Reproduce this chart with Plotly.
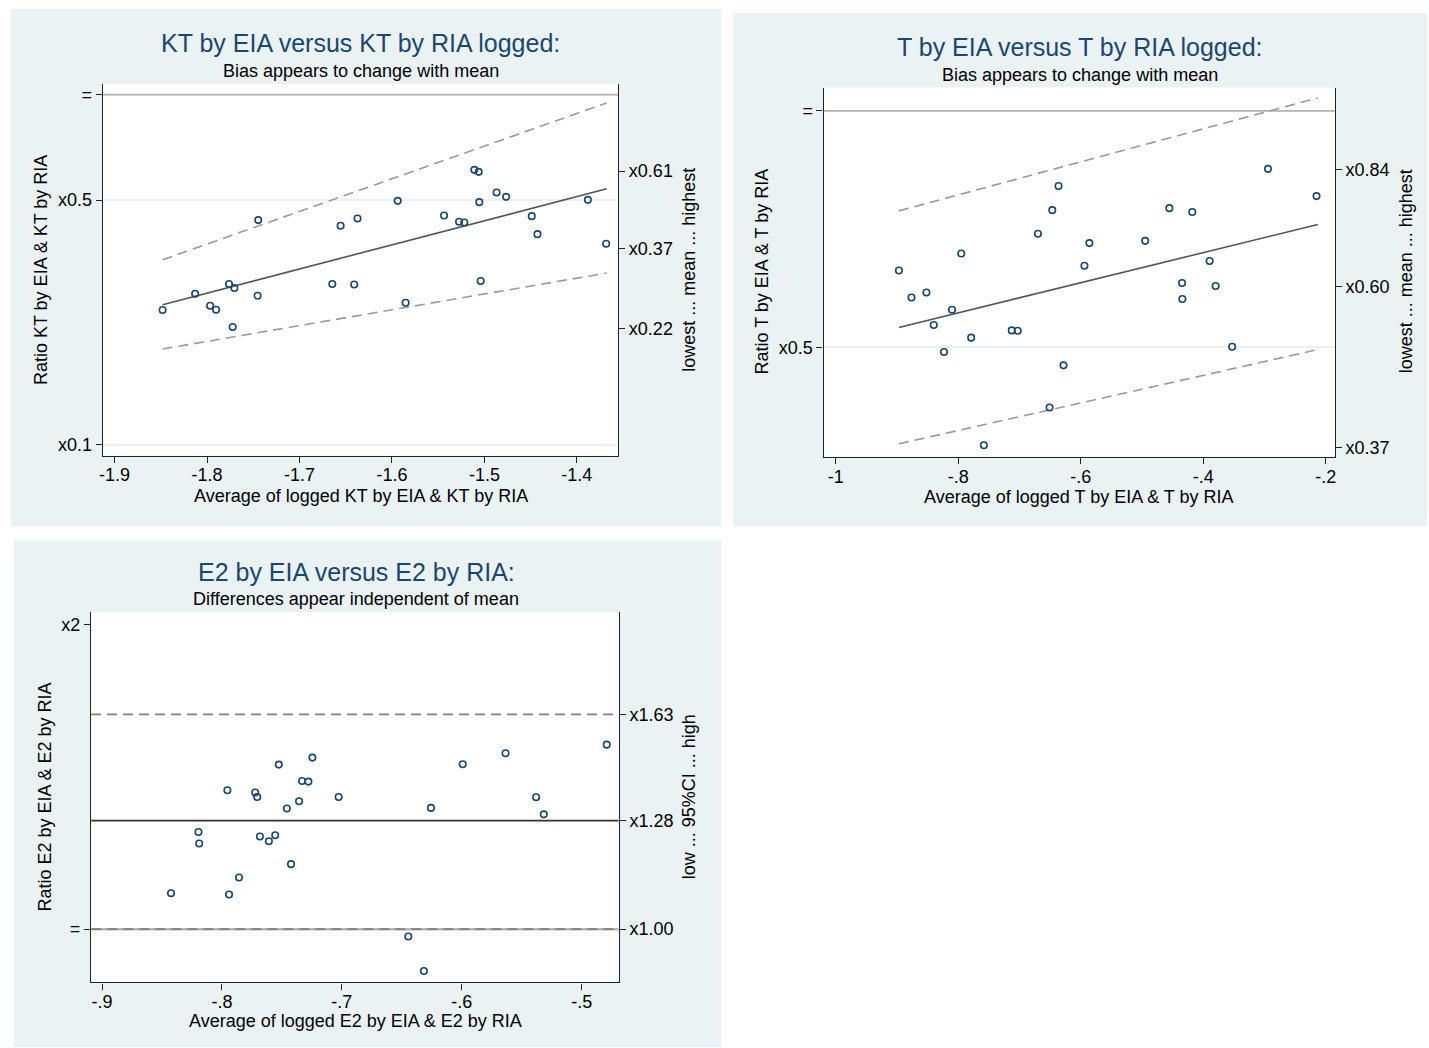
import plotly.graph_objects as go

W, H = 1429, 1048

# ---------------- data ----------------
# Panel 1: KT
kt_avg = [-1.848, -1.8128, -1.7966, -1.7902, -1.7762, -1.7704, -1.7722, -1.7453,
          -1.7446, -1.6645, -1.6555, -1.6408, -1.6372, -1.5938, -1.5852, -1.5436,
          -1.5274, -1.5217, -1.5109, -1.5062, -1.5055, -1.5040, -1.4868, -1.4765,
          -1.4488, -1.4426, -1.3881, -1.3683]
kt_ratio = [0.2427, 0.2701, 0.2496, 0.2431, 0.2879, 0.2805, 0.2171, 0.2666,
            0.4383, 0.2879, 0.4222, 0.2871, 0.4429, 0.4973, 0.2546, 0.4517,
            0.4334, 0.4314, 0.6097, 0.6018, 0.4931, 0.2936, 0.5254, 0.5107,
            0.4498, 0.3996, 0.5006, 0.3752]
kt_line_x = [-1.848, -1.3677]
kt_line_mean = [0.2513, 0.5383]
kt_line_hi = [0.3377, 0.9469]
kt_line_lo = [0.1878, 0.3094]
kt_x_ticks = [-1.9, -1.8, -1.7, -1.6, -1.5, -1.4]
kt_x_text = ["-1.9", "-1.8", "-1.7", "-1.6", "-1.5", "-1.4"]
kt_left_vals = [0.1, 0.5, 1]
kt_left_text = ["x0.1", "x0.5", "="]
kt_right_vals = [0.215, 0.3625, 0.605]
kt_right_text = ["x0.22", "x0.37", "x0.61"]

# Panel 2: T
t_avg = [-0.8969, -0.8764, -0.852, -0.84, -0.8233, -0.8102, -0.7951, -0.7789,
         -0.7582, -0.7127, -0.7029, -0.6699, -0.6509, -0.6465, -0.6363, -0.6281,
         -0.594, -0.5859, -0.4948, -0.4553, -0.4346, -0.4341, -0.4179, -0.3896,
         -0.3798, -0.3528, -0.2943, -0.2151]
t_ratio = [0.6263, 0.5787, 0.5872, 0.5338, 0.4932, 0.5582, 0.6583, 0.5143,
           0.3752, 0.5254, 0.5249, 0.6975, 0.4190, 0.7475, 0.8022, 0.4742,
           0.6350, 0.6787, 0.6832, 0.7519, 0.6036, 0.5760, 0.7436, 0.6439,
           0.5984, 0.5008, 0.8437, 0.7789]
t_line_x = [-0.8969, -0.213]
t_line_mean = [0.5300, 0.7167]
t_line_hi = [0.7459, 1.0388]
t_line_lo = [0.3767, 0.4966]
t_x_ticks = [-1, -0.8, -0.6, -0.4, -0.2]
t_x_text = ["-1", "-.8", "-.6", "-.4", "-.2"]
t_left_vals = [0.5, 1]
t_left_text = ["x0.5", "="]
t_right_vals = [0.3725, 0.598, 0.842]
t_right_text = ["x0.37", "x0.60", "x0.84"]

# Panel 3: E2
e2_avg = [-0.8425, -0.8196, -0.819, -0.7955, -0.7941, -0.7858, -0.7723, -0.7706,
          -0.7684, -0.7609, -0.7556, -0.7526, -0.7459, -0.7424, -0.7357, -0.7332,
          -0.7279, -0.7246, -0.7027, -0.6446, -0.6316, -0.6257, -0.5992, -0.5635,
          -0.538, -0.5316, -0.4791]
e2_ratio = [1.0852, 1.2474, 1.2151, 1.3716, 1.0820, 1.1247, 1.3644, 1.3508,
            1.2345, 1.2213, 1.2381, 1.4540, 1.3157, 1.1593, 1.3378, 1.4008,
            1.3988, 1.4773, 1.3508, 0.9835, 0.9091, 1.3176, 1.4550, 1.4918,
            1.3499, 1.2984, 1.5215]
e2_mean = 1.28
e2_hi = 1.63
e2_lo = 1.00
e2_x_ticks = [-0.9, -0.8, -0.7, -0.6, -0.5]
e2_x_text = ["-.9", "-.8", "-.7", "-.6", "-.5"]
e2_left_vals = [1, 2]
e2_left_text = ["=", "x2"]
e2_right_vals = [1.00, 1.28, 1.63]
e2_right_text = ["x1.00", "x1.28", "x1.63"]

# ---------------- styling ----------------
BG = "#EAF2F3"
NAVY = "#1A476F"
FONT = "Liberation Sans, Arial, Helvetica, sans-serif"
AXC = "#222222"

# plot-region pixel boxes (left, top, right, bottom)
P1 = (99.3, 84.0, 616.7, 456.0)
P2 = (823.1, 87.6, 1336.3, 457.3)
P3 = (87.5, 612.7, 617.3, 983.3)
X1R = [-1.9126, -1.3554]; Y1R = [-1.0305, 0.0305]
X2R = [-1.0198, -0.1854]; Y2R = [-0.4406, 0.0298]
X3R = [-0.90914, -0.46910]; Y3R = [-0.0526, 0.3132]


def dom(box):
    l, t, r, b = box
    return [l / W, r / W], [1 - b / H, 1 - t / H]


fig = go.Figure()

def add_line(x, y, xa, ya, color, width, dash=None):
    fig.add_trace(go.Scatter(x=x, y=y, xaxis=xa, yaxis=ya, mode="lines",
                             line=dict(color=color, width=width, dash=dash),
                             hoverinfo="skip", showlegend=False))

def add_pts(x, y, xa, ya):
    fig.add_trace(go.Scatter(x=x, y=y, xaxis=xa, yaxis=ya, mode="markers",
                             marker=dict(symbol="circle-open", size=6.5, color=NAVY,
                                         line=dict(width=1.6, color=NAVY)),
                             hoverinfo="skip", showlegend=False))

DASH = "10px,6px"
# panel 1
add_line(X1R, [1, 1], "x", "y", "#B4B4B4", 1.8)
add_line(kt_line_x, kt_line_hi, "x", "y", "#9A9A9A", 1.6, DASH)
add_line(kt_line_x, kt_line_lo, "x", "y", "#9A9A9A", 1.6, DASH)
add_line(kt_line_x, kt_line_mean, "x", "y", "#555555", 1.6)
add_pts(kt_avg, kt_ratio, "x", "y")
fig.add_trace(go.Scatter(x=[], y=[], xaxis="x", yaxis="y2", showlegend=False))

# panel 2
add_line(X2R, [1, 1], "x2", "y3", "#B4B4B4", 1.8)
add_line(t_line_x, t_line_hi, "x2", "y3", "#9A9A9A", 1.6, DASH)
add_line(t_line_x, t_line_lo, "x2", "y3", "#9A9A9A", 1.6, DASH)
add_line(t_line_x, t_line_mean, "x2", "y3", "#555555", 1.6)
add_pts(t_avg, t_ratio, "x2", "y3")
fig.add_trace(go.Scatter(x=[], y=[], xaxis="x2", yaxis="y4", showlegend=False))

# panel 3
add_line(X3R, [1, 1], "x3", "y5", "#B4B4B4", 2.5)
add_line(X3R, [e2_lo, e2_lo], "x3", "y5", "#808080", 1.6, DASH)
add_line(X3R, [e2_hi, e2_hi], "x3", "y5", "#808080", 1.6, DASH)
add_line(X3R, [e2_mean, e2_mean], "x3", "y5", "#333333", 1.6)
add_pts(e2_avg, e2_ratio, "x3", "y5")
fig.add_trace(go.Scatter(x=[], y=[], xaxis="x3", yaxis="y6", showlegend=False))

tickfont = dict(family=FONT, size=18, color="black")

def xax(box, rng, vals, text, anchor):
    d, _ = dom(box)
    return dict(domain=d, range=rng, anchor=anchor, tickvals=vals, ticktext=text,
                ticks="outside", ticklen=6, tickwidth=1, tickcolor=AXC,
                showline=True, linecolor=AXC, linewidth=1.3, showgrid=False,
                zeroline=False, tickfont=tickfont, fixedrange=True,
                ticklabelstandoff=-3)

def yax(box, rng, vals, text, anchor, grid=True):
    _, d = dom(box)
    return dict(domain=d, range=rng, type="log", anchor=anchor, tickvals=vals,
                ticktext=text, ticks="outside", ticklen=6, tickwidth=1,
                tickcolor=AXC, showline=True, linecolor=AXC, linewidth=1.3,
                showgrid=grid, gridcolor=BG, gridwidth=1.5, zeroline=False,
                tickfont=tickfont, fixedrange=True)

def yax_r(rng, vals, text, anchor, over):
    return dict(range=rng, type="log", anchor=anchor, overlaying=over, side="right",
                tickvals=vals, ticktext=text, ticks="outside", ticklen=6,
                tickwidth=1, tickcolor=AXC, showline=True, linecolor=AXC,
                linewidth=1.3, showgrid=False, zeroline=False, tickfont=tickfont,
                fixedrange=True)

shapes = []
for (l, t, r, b) in [(7, 9, 720, 527), (732, 13, 1429, 527), (10, 540, 720, 1048)]:
    shapes.append(dict(type="rect", xref="paper", yref="paper", x0=l / W, x1=r / W,
                       y0=1 - b / H, y1=1 - t / H, fillcolor=BG, line=dict(width=0),
                       layer="below"))
for (l, t, r, b) in [P1, P2, P3]:
    shapes.append(dict(type="rect", xref="paper", yref="paper", x0=l / W, x1=r / W,
                       y0=1 - b / H, y1=1 - t / H, fillcolor="white",
                       line=dict(width=0), layer="below"))

annotations = []

def ann(text, cx, cy, size, color="black", angle=0):
    annotations.append(dict(text=text, x=cx / W, y=1 - cy / H, xref="paper",
                            yref="paper", xanchor="center", yanchor="middle",
                            showarrow=False, textangle=angle, borderpad=0,
                            font=dict(family=FONT, size=size, color=color)))

ann("KT by EIA versus KT by RIA logged:", 358.5, 43, 25, NAVY)
ann("Bias appears to change with mean", 358.5, 71, 18)
ann("Average of logged KT by EIA & KT by RIA", 358.5, 496, 18)
ann("Ratio KT by EIA & KT by RIA", 37, 270.5, 18, angle=-90)
ann("lowest ... mean ... highest", 688, 270, 18, angle=-90)

ann("T by EIA versus T by RIA logged:", 1080.5, 47, 25, NAVY)
ann("Bias appears to change with mean", 1080.5, 75, 18)
ann("Average of logged T by EIA & T by RIA", 1080, 497, 18)
ann("Ratio T by EIA & T by RIA", 761, 272, 18, angle=-90)
ann("lowest ... mean ... highest", 1408, 271.5, 18, angle=-90)

ann("E2 by EIA versus E2 by RIA:", 353.5, 573, 25, NAVY)
ann("Differences appear independent of mean", 353.5, 600, 18)
ann("Average of logged E2 by EIA & E2 by RIA", 352.5, 1022, 18)
ann("Ratio E2 by EIA & E2 by RIA", 41, 797.5, 18, angle=-90)
ann("low ... 95%CI ... high", 688, 798, 18, angle=-90)

fig.update_layout(
    width=W, height=H, autosize=False,
    margin=dict(l=0, r=0, t=0, b=0, pad=0),
    paper_bgcolor="white", plot_bgcolor="rgba(0,0,0,0)",
    showlegend=False, font=dict(family=FONT),
    xaxis=xax(P1, X1R, kt_x_ticks, kt_x_text, "y"),
    yaxis=yax(P1, Y1R, kt_left_vals, kt_left_text, "x"),
    yaxis2=yax_r(Y1R, kt_right_vals, kt_right_text, "x", "y"),
    xaxis2=xax(P2, X2R, t_x_ticks, t_x_text, "y3"),
    yaxis3=yax(P2, Y2R, t_left_vals, t_left_text, "x2"),
    yaxis4=yax_r(Y2R, t_right_vals, t_right_text, "x2", "y3"),
    xaxis3=xax(P3, X3R, e2_x_ticks, e2_x_text, "y5"),
    yaxis5=yax(P3, Y3R, e2_left_vals, e2_left_text, "x3", grid=False),
    yaxis6=yax_r(Y3R, e2_right_vals, e2_right_text, "x3", "y5"),
    shapes=shapes, annotations=annotations,
)

fig.write_html("out.html")
